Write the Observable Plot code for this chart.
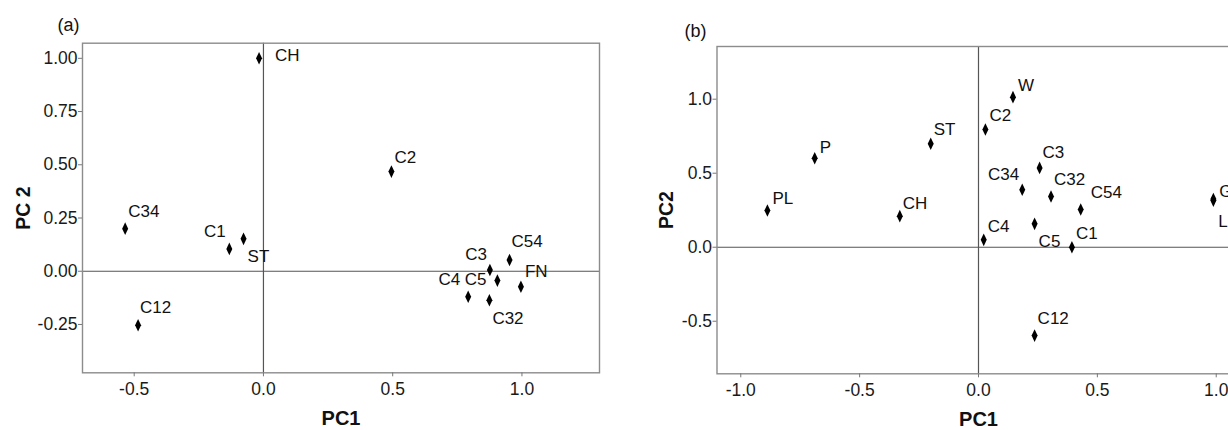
<!DOCTYPE html>
<html>
<head>
<meta charset="utf-8">
<script src="https://cdn.jsdelivr.net/npm/d3@7"></script>
<script src="https://cdn.jsdelivr.net/npm/@observablehq/plot@0.6"></script>
<style>
  html, body { margin: 0; padding: 0; background: #fff; overflow: hidden; width: 1228px; height: 430px; }
  #wrap { position: relative; width: 1228px; height: 430px; overflow: hidden; }
  #pa { position: absolute; left: 0; top: 0; width: 610px; }
  #pb { position: absolute; left: 610px; top: 0; width: 640px; }
  #wrap svg { max-width: none !important; }
</style>
</head>
<body>
<div id="wrap"><div id="pa"></div><div id="pb"></div></div>
<script>
// ---- Panel (a) data ----
const namesA = ["CH", "C2", "C34", "C1", "ST", "C12", "C3", "C54", "FN", "C5", "C4", "C32"];
const pc1A   = [-0.017, 0.495, -0.535, -0.132, -0.077, -0.485, 0.876, 0.952, 0.996, 0.905, 0.792, 0.874];
const pc2A   = [1.00, 0.468, 0.20, 0.105, 0.152, -0.254, 0.006, 0.053, -0.073, -0.044, -0.12, -0.136];
const xTicksA = [-0.5, 0.0, 0.5, 1.0];
const yTicksA = [-0.25, 0.0, 0.25, 0.50, 0.75, 1.00];

// ---- Panel (b) data ----
const namesB = ["W", "C2", "ST", "P", "C3", "C34", "C32", "C54", "G", "L", "PL", "CH", "C4", "C5", "C1", "C12"];
const pc1B   = [0.145, 0.029, -0.201, -0.689, 0.257, 0.184, 0.305, 0.430, 0.988, 0.988, -0.888, -0.331, 0.022, 0.236, 0.393, 0.236];
const pc2B   = [1.014, 0.795, 0.699, 0.601, 0.536, 0.388, 0.343, 0.255, 0.325, 0.315, 0.248, 0.21, 0.050, 0.158, 0.0, -0.597];
const xTicksB = [-1.0, -0.5, 0.0, 0.5, 1.0];
const yTicksB = [-0.5, 0.0, 0.5, 1.0];

// ---- label placement (style, pixels) ----
const labDxA = [16, 3, 3, -3.5, 4, 2, -3, 2, 4, -11, -8, 3];
const labDyA = [-3, -14, -17, -17, 18, -18, -15, -18, -15, -1, -17, 18];
const labAnA = ["start","start","start","end","start","start","end","start","start","end","end","start"];
const labDxB = [5, 4, 3, 5, 3, -3, 3, 10, 6, 5, 5, 3, 4, 4, 4, 3];
const labDyB = [-12, -14, -14, -11, -15, -15, -17, -17, -8, 21, -12, -13, -13, 18, -14, -17];
const labAnB = ["start","start","start","start","start","end","start","start","start","start","start","start","start","start","start","start"];

const FONT = "'Liberation Sans', Arial, sans-serif";

const tallDiamond = {
  draw(ctx, size) {
    const r = Math.sqrt(size / Math.PI);
    ctx.moveTo(0, -2.1 * r);
    ctx.lineTo(r, 0);
    ctx.lineTo(0, 2.1 * r);
    ctx.lineTo(-r, 0);
    ctx.closePath();
  }
};

function panel({names, pc1, pc2, dxs, dys, anchors, xDomain, yDomain, xTicks, yTicks, yFmt, xFmt,
                width, margins, xTitle, yTitle, yTitleDx, tag, tagDx, tagDy}) {
  const data = names.map((n, i) => ({name: n, x: pc1[i], y: pc2[i]}));
  const labelMarks = data.map((d, i) => Plot.text([d], {
    x: "x", y: "y", text: "name",
    dx: dxs[i], dy: dys[i], textAnchor: anchors[i], lineAnchor: "middle",
    fontSize: 17, fill: "#111"
  }));
  return Plot.plot({
    width, height: 430,
    marginLeft: margins[0], marginRight: margins[1], marginTop: margins[2], marginBottom: margins[3],
    style: {fontFamily: FONT, fontSize: "17.5px", background: "#fff", overflow: "visible", maxWidth: "none"},
    x: {domain: xDomain},
    y: {domain: yDomain},
    marks: [
      Plot.ruleX([0], {stroke: "#555", strokeWidth: 1.2}),
      Plot.ruleY([0], {stroke: "#555", strokeWidth: 1.2}),
      Plot.frame({stroke: "#8c8c8c", strokeWidth: 1.4}),
      Plot.axisX({ticks: xTicks, tickFormat: xFmt, tickSize: 4, tickPadding: 6, stroke: "#777", fill: "#1a1a1a", label: null, fontSize: 17.5}),
      Plot.axisY({ticks: yTicks, tickFormat: yFmt, tickSize: 4, tickPadding: 1, stroke: "#777", fill: "#1a1a1a", label: null, fontSize: 17.5}),
      Plot.dot(data, {x: "x", y: "y", symbol: tallDiamond, r: 3, fill: "#000", stroke: "none"}),
      ...labelMarks,
      Plot.text([xTitle], {frameAnchor: "bottom", dy: 46, lineAnchor: "middle", textAnchor: "middle", fontWeight: "bold", fontSize: 20, fill: "#111"}),
      Plot.text([yTitle], {frameAnchor: "left", dx: yTitleDx, rotate: -90, lineAnchor: "middle", textAnchor: "middle", fontWeight: "bold", fontSize: 19.5, fill: "#111"}),
      Plot.text([tag], {frameAnchor: "top-left", dx: tagDx, dy: tagDy, textAnchor: "start", lineAnchor: "middle", fontSize: 18, fill: "#111"})
    ]
  });
}

const f2 = d => d.toFixed(2);
const f1 = d => d.toFixed(1);

document.getElementById("pa").append(panel({
  names: namesA, pc1: pc1A, pc2: pc2A, dxs: labDxA, dys: labDyA, anchors: labAnA,
  xDomain: [-0.7, 1.3], yDomain: [-0.477, 1.071], xTicks: xTicksA, yTicks: yTicksA,
  xFmt: f1, yFmt: f2, width: 610, margins: [82, 11, 42.7, 57.7],
  xTitle: "PC1", yTitle: "PC 2", yTitleDx: -59, tag: "(a)", tagDx: -25, tagDy: -17.7
}));

document.getElementById("pb").append(panel({
  names: namesB, pc1: pc1B, pc2: pc2B, dxs: labDxB, dys: labDyB, anchors: labAnB,
  xDomain: [-1.1, 1.1], yDomain: [-0.855, 1.356], xTicks: xTicksB, yTicks: yTicksB,
  xFmt: f1, yFmt: f1, width: 640, margins: [106.5, 10.5, 46, 56.7],
  xTitle: "PC1", yTitle: "PC2", yTitleDx: -50.5, tag: "(b)", tagDx: -32.5, tagDy: -15.5
}));
</script>
</body>
</html>
